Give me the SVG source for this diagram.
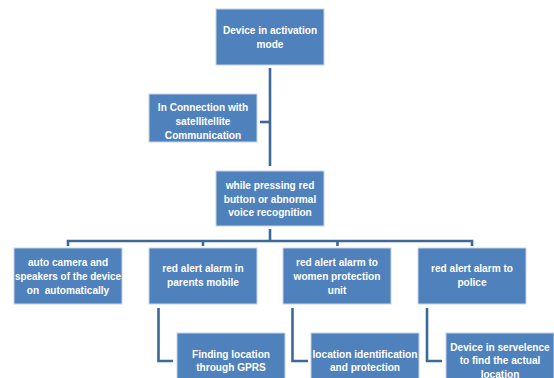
<svg xmlns="http://www.w3.org/2000/svg" width="554" height="378" viewBox="0 0 554 378">
<style>
.box{fill:#4F81BD;stroke:#C6D4E6;stroke-width:1}
.t{fill:#fff;font-family:"Liberation Sans",Arial,sans-serif;font-size:10.1px;font-weight:bold;text-anchor:middle;white-space:pre}
.c{fill:none;stroke:#3E679A;stroke-width:2.6}
</style>
<rect width="554" height="378" fill="#fff"/>
<g id="connectors">
<path class="c" d="M270 68V166"/>
<path class="c" d="M260 122H270"/>
<path class="c" d="M270 229V241M68 246V241H472V246M203 241V246M337.5 241V246"/>
<path class="c" d="M158.5 308V361H173"/>
<path class="c" d="M292.5 308V361H308"/>
<path class="c" d="M427 308V361H442"/>
</g>
<g id="n1"><rect class="box" x="216" y="9" width="108" height="56"/>
<text class="t" x="270" y="34">Device in activation</text><text class="t" x="270" y="48">mode</text></g>
<g id="n2"><rect class="box" x="149" y="94" width="108" height="48"/>
<text class="t" x="203" y="111">In Connection with</text><text class="t" x="203" y="125">satellitellite</text><text class="t" x="203" y="139">Communication</text></g>
<g id="n3"><rect class="box" x="216" y="171" width="108" height="55"/>
<text class="t" x="270" y="189">while pressing red</text><text class="t" x="270" y="202.5">button or abnormal</text><text class="t" x="270" y="216">voice recognition</text></g>
<g id="n4"><rect class="box" x="14" y="248" width="108" height="56"/>
<text class="t" x="68" y="266">auto camera and</text><text class="t" x="68" y="280" textLength="106" lengthAdjust="spacingAndGlyphs">speakers of the device</text><text class="t" x="68" y="293.5" xml:space="preserve">on  automatically</text></g>
<g id="n5"><rect class="box" x="149" y="248" width="108" height="56"/>
<text class="t" x="203" y="272">red alert alarm in</text><text class="t" x="203" y="286">parents mobile</text></g>
<g id="n6"><rect class="box" x="283" y="248" width="108" height="56"/>
<text class="t" x="337" y="266">red alert alarm to</text><text class="t" x="337" y="280">women protection</text><text class="t" x="337" y="293.5">unit</text></g>
<g id="n7"><rect class="box" x="418" y="248" width="108" height="56"/>
<text class="t" x="472" y="272">red alert alarm to</text><text class="t" x="472" y="286">police</text></g>
<g id="n8"><rect class="box" x="177" y="333" width="108" height="50"/>
<text class="t" x="231" y="357.5">Finding location</text><text class="t" x="231" y="370.5">through GPRS</text></g>
<g id="n9"><rect class="box" x="311" y="333" width="108" height="50"/>
<text class="t" x="365" y="357.5" textLength="105" lengthAdjust="spacingAndGlyphs">location identification</text><text class="t" x="365" y="370.5">and protection</text></g>
<g id="n10"><rect class="box" x="446" y="333" width="108" height="50"/>
<text class="t" x="500" y="350.5">Device in servelence</text><text class="t" x="500" y="364">to find the actual</text><text class="t" x="500" y="377.5">location</text></g>
</svg>
